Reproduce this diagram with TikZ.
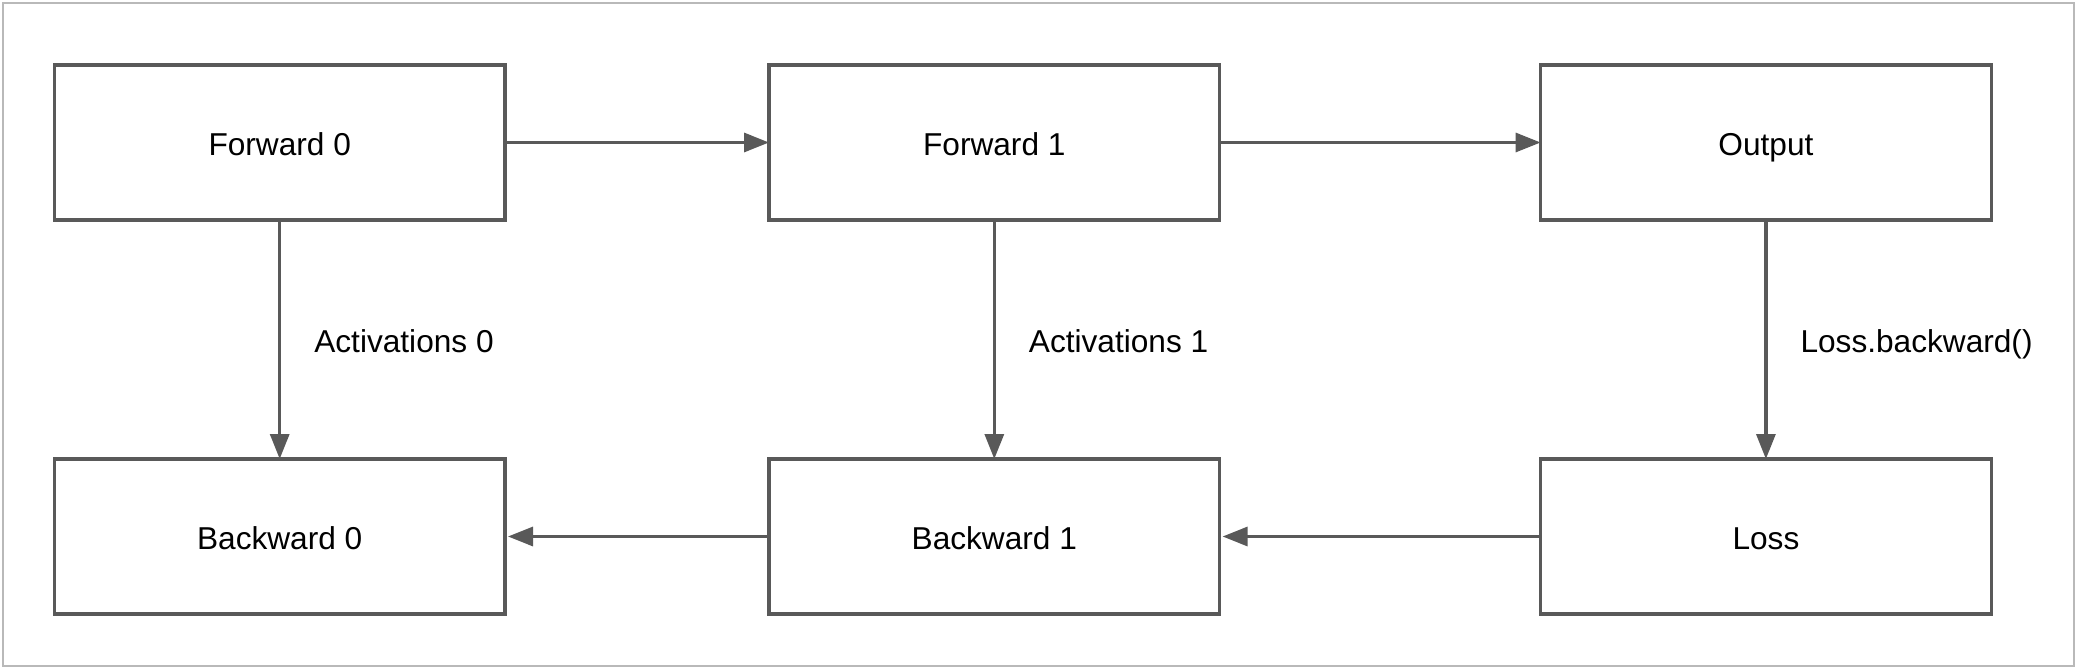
\documentclass[tikz,border=0pt]{standalone}
\usepackage{fontspec}
\setmainfont{Liberation Sans}
\usepackage{xcolor}
\usepackage{tikz}
\usetikzlibrary{positioning,arrows.meta}
\definecolor{boxgray}{HTML}{595959}

\begin{document}
\begin{tikzpicture}[
                    every node/.append style = {font=\fontsize{9}{11}\selectfont, text height=0.75em, text depth=0.03em},
                    block/.style = {draw=boxgray, line width=0.032cm, minimum width=4.506cm,
                                    minimum height=1.55cm, outer sep=0pt, inner sep=0pt},
                    conn/.style = {draw=boxgray, line width=0.032cm, -{Triangle[length=0.25cm,width=0.19cm]}},
                    lbl/.style = {midway, anchor=west, inner sep=0pt, xshift=0.33cm}]
                \useasboundingbox (0,0) rectangle (20.78,-6.70);
                \draw[gray!55, line width=0.015cm] (0.03,-0.03) rectangle (20.74,-6.66);
                \node[block] (nfwdzero) at (2.797,-1.425) {Forward 0};
                \node[block, right=2.64cm of nfwdzero] (nfwdone) {Forward 1};
                \node[block, right=3.21cm of nfwdone] (nout) {Output};
                \node[block, below=2.39cm of nfwdzero] (nbwdzero) {Backward 0};
                \node[block, below=2.39cm of nfwdone] (nbwdone) {Backward 1};
                \node[block, below=2.39cm of nout] (nloss) {Loss};
                \draw[conn] (nfwdzero) -- (nfwdone);
                \draw[conn] (nfwdone) -- (nout);
                \draw[conn] (nfwdzero) -- node[lbl] {Activations 0} (nbwdzero);
                \draw[conn] (nfwdone) -- node[lbl] {Activations 1} (nbwdone);
                \draw[conn] (nout) -- node[lbl] {Loss.backward()} (nloss);
                \draw[conn, shorten >=0.03cm] (nloss) -- (nbwdone);
                \draw[conn, shorten >=0.03cm] (nbwdone) -- (nbwdzero);
                \end{tikzpicture}
\end{document}
